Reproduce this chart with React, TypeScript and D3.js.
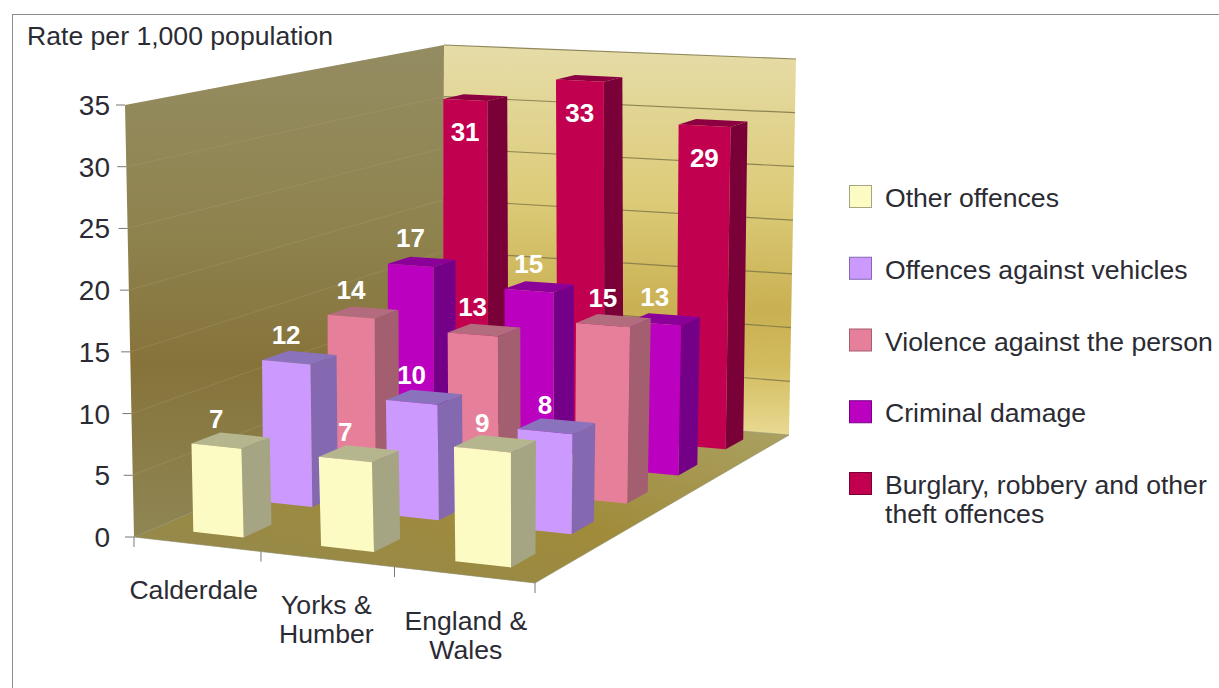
import * as d3 from "d3";

const categories = [["Calderdale"], ["Yorks &", "Humber"], ["England &", "Wales"]];
const seriesNames = [
  ["Other offences"],
  ["Offences against vehicles"],
  ["Violence against the person"],
  ["Criminal damage"],
  ["Burglary, robbery and other", "theft offences"],
];
const otherOffences = [7.2, 7.2, 9.1];
const vehicles = [12, 9.6, 8.2];
const violence = [14, 13.3, 15];
const damage = [16.8, 15.3, 13.2];
const burglary = [30.7, 33, 29.4];
const seriesValues = [otherOffences, vehicles, violence, damage, burglary];
const valueTicks = [0, 5, 10, 15, 20, 25, 30, 35];

const frontColors = ["#fdfbc4", "#cc99ff", "#e6809a", "#bb00bf", "#c20050"];
const sideColors = ["#a5a584", "#8468b0", "#a35f70", "#750088", "#7a0038"];
const topColors = ["#b6b68e", "#8a72bd", "#b26c7e", "#8a0098", "#8c0042"];

type Pt = [number, number];

// unit square -> quad, corners listed as (0,0) (1,0) (1,1) (0,1)
function quadMap(q: Pt[]) {
  const [[x0, y0], [x1, y1], [x2, y2], [x3, y3]] = q;
  const dx1 = x1 - x2, dx2 = x3 - x2, sx = x0 - x1 + x2 - x3;
  const dy1 = y1 - y2, dy2 = y3 - y2, sy = y0 - y1 + y2 - y3;
  const det = dx1 * dy2 - dx2 * dy1;
  const g = (sx * dy2 - dx2 * sy) / det;
  const h = (dx1 * sy - sx * dy1) / det;
  const a = x1 - x0 + g * x1, b = x3 - x0 + h * x3;
  const d = y1 - y0 + g * y1, e = y3 - y0 + h * y3;
  return (u: number, v: number): Pt => {
    const w = g * u + h * v + 1;
    return [(a * u + b * v + x0) / w, (d * u + e * v + y0) / w];
  };
}

const floorMap = quadMap([[134, 537], [535, 583], [789, 435], [443, 406]]);
const roofMap = quadMap([[125, 105], [538, 135], [796, 59], [444, 45]]);

const xScale = d3.scaleLinear().domain([0, categories.length]).range([0, 1]);
const zScale = d3.scaleLinear().domain([0, seriesNames.length]).range([0, 1]);
const yScale = d3.scaleLinear().domain([0, 35]).range([0, 1]);

function project(c: number, s: number, v: number): Pt {
  const a = floorMap(xScale(c), zScale(s));
  const b = roofMap(xScale(c), zScale(s));
  const k = yScale(v);
  return [a[0] + (b[0] - a[0]) * k, a[1] + (b[1] - a[1]) * k];
}

const poly = (pts: Pt[]) => (d3.line()(pts) ?? "") + "Z";

const GAP = 0.3;
const DRIFT = 0.0075; // bars sit a touch right of the wall corner further back
const font = "'Liberation Sans', Arial, sans-serif";
const textColor = "#2b2b33";

const bars = d3
  .range(seriesNames.length - 1, -1, -1)
  .flatMap((s) => d3.range(categories.length).map((c) => ({ s, c, v: seriesValues[s][c] })));

export default function App() {
  const nC = categories.length;
  const nS = seriesNames.length;
  return (
    <svg
      width={1219}
      height={688}
      style={{ position: "absolute", left: 0, top: 0, background: "#fff" }}
      fontFamily={font}
    >
      <defs>
        <linearGradient id="backWall" x1="0" y1="0" x2="0" y2="1">
          <stop offset="0" stopColor="#e6dca8" />
          <stop offset="0.4" stopColor="#dccb78" />
          <stop offset="0.68" stopColor="#c9b052" />
          <stop offset="0.82" stopColor="#d2bb5e" />
          <stop offset="1" stopColor="#e8da92" />
        </linearGradient>
        <linearGradient id="leftWall" x1="0" y1="0" x2="0" y2="1">
          <stop offset="0" stopColor="#948c62" />
          <stop offset="0.35" stopColor="#8f8450" />
          <stop offset="0.65" stopColor="#86733a" />
          <stop offset="1" stopColor="#8f8654" />
        </linearGradient>
        <linearGradient id="floor" x1="0" y1="1" x2="1" y2="0">
          <stop offset="0" stopColor="#928850" />
          <stop offset="0.5" stopColor="#a08b3a" />
          <stop offset="1" stopColor="#aca468" />
        </linearGradient>
      </defs>

      <rect x={12.5} y={14.5} width={1300} height={800} fill="none" stroke="#8c8c8c" />

      <text x={27} y={45} fontSize={26.6} fill={textColor}>
        Rate per 1,000 population
      </text>

      <path
        d={poly([project(0, 0, 0), project(0, nS, 0), project(0, nS, 35), project(0, 0, 35)])}
        fill="url(#leftWall)"
      />
      <path
        d={poly([project(0, nS, 0), project(nC, nS, 0), project(nC, nS, 35), project(0, nS, 35)])}
        fill="url(#backWall)"
      />
      <path
        d={poly([project(0, 0, 0), project(nC, 0, 0), project(nC, nS, 0), project(0, nS, 0)])}
        fill="url(#floor)"
        stroke="#8a8a6a"
        strokeWidth={0.6}
      />

      {valueTicks.slice(1).map((t) => (
        <g key={t} fill="none">
          <path
            d={d3.line()([project(0, 0, t), project(0, nS, t)]) ?? ""}
            stroke="#a89f70"
            strokeOpacity={t === 35 ? 0 : 0.35}
          />
          <path
            d={d3.line()([project(0, nS, t), project(nC, nS, t)]) ?? ""}
            stroke="#7f7748"
            strokeWidth={1.2}
            strokeOpacity={0.85}
          />
        </g>
      ))}

      {valueTicks.map((t) => {
        const [x, y] = project(0, 0, t);
        return (
          <g key={t}>
            <line x1={x - 9} x2={x} y1={y} y2={y} stroke="#777" />
            <text x={110} y={y + 10} textAnchor="end" fontSize={28} fill={textColor}>
              {t}
            </text>
          </g>
        );
      })}

      {d3.range(nC + 1).map((c) => {
        const [x, y] = project(c, 0, 0);
        return <line key={c} x1={x} x2={x} y1={y} y2={y + 10} stroke="#777" />;
      })}

      {categories.map((lines, c) => {
        const [x, y] = project(c + 0.5, 0, 0);
        return (
          <text key={c} textAnchor="middle" fontSize={26.6} fill={textColor}>
            {lines.map((l, i) => (
              <tspan key={l} x={x - 3 + c * 2.5} y={y + 55 + i * 29}>
                {l}
              </tspan>
            ))}
          </text>
        );
      })}

      {bars.map(({ s, c, v }) => {
        const c0 = c + GAP + s * DRIFT, c1 = c + 1 - GAP + s * DRIFT;
        const s0 = s + GAP, s1 = s + 1 - GAP;
        return (
          <g key={`${s}-${c}`}>
            <path
              d={poly([project(c1, s0, 0), project(c1, s1, 0), project(c1, s1, v), project(c1, s0, v)])}
              fill={sideColors[s]}
            />
            <path
              d={poly([project(c0, s0, v), project(c1, s0, v), project(c1, s1, v), project(c0, s1, v)])}
              fill={topColors[s]}
            />
            <path
              d={poly([project(c0, s0, 0), project(c1, s0, 0), project(c1, s0, v), project(c0, s0, v)])}
              fill={frontColors[s]}
            />
          </g>
        );
      })}

      {bars.map(({ s, c, v }) => {
        const [x, y] = project(c + 0.5 + s * DRIFT, s + GAP, v);
        const inside = s === nS - 1;
        return (
          <text
            key={`${s}-${c}`}
            x={x}
            y={inside ? y + 41 : y - 18}
            textAnchor="middle"
            fontSize={26}
            fontWeight="bold"
            fill="#fff"
          >
            {d3.format(".0f")(v)}
          </text>
        );
      })}

      {seriesNames.map((lines, s) => {
        const yTop = d3.scaleLinear().domain([0, 4]).range([185, 472])(s);
        return (
          <g key={s}>
            <rect
              x={849.5}
              y={yTop + 0.5}
              width={22}
              height={22}
              fill={frontColors[s]}
              stroke={sideColors[s]}
            />
            <text fontSize={26.6} fill={textColor}>
              {lines.map((l, i) => (
                <tspan key={l} x={885} y={yTop + 22 + i * 29}>
                  {l}
                </tspan>
              ))}
            </text>
          </g>
        );
      })}
    </svg>
  );
}
